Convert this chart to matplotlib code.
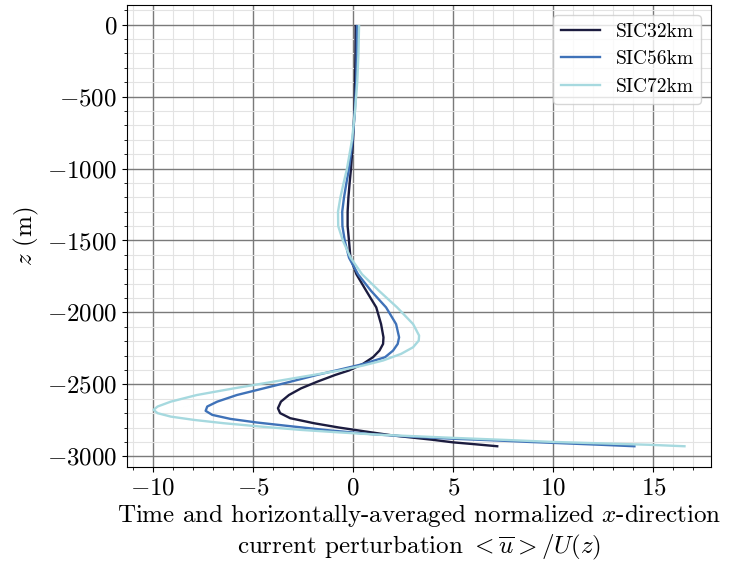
import numpy as np
import matplotlib.pyplot as plt
from matplotlib.ticker import MultipleLocator

plt.rcParams['font.family'] = 'serif'
plt.rcParams['font.serif'] = ['cmr10']
plt.rcParams['mathtext.fontset'] = 'cm'
plt.rcParams['axes.formatter.use_mathtext'] = True

# normalized mean x-current perturbation <u>/U(z) against depth z (m)
z_sic32 = [-10, -200, -400, -600, -800, -1000, -1100, -1200, -1300, -1400,
           -1504, -1620, -1735, -1850, -1965, -2081, -2173, -2219, -2265, -2311,
           -2357, -2403, -2435, -2482, -2528, -2574, -2620, -2666, -2700, -2735,
           -2770, -2800, -2827, -2855, -2885, -2903, -2915, -2930]
u_sic32 = [0.13, 0.12, 0.10, 0.07, 0.0, -0.10, -0.17, -0.23, -0.27, -0.27,
           -0.20, -0.13, 0.17, 0.66, 1.16, 1.40, 1.52, 1.50, 1.32, 1.0,
           0.5, -0.2, -0.9, -1.8, -2.6, -3.2, -3.6, -3.75, -3.64, -3.14,
           -1.95, -0.7, 0.6, 1.98, 3.97, 5.0, 6.0, 7.2]

z_sic56 = [-10, -200, -400, -600, -800, -1000, -1100, -1200, -1300, -1400,
           -1504, -1620, -1735, -1850, -1965, -2081, -2173, -2219, -2265, -2311,
           -2357, -2392, -2435, -2482, -2528, -2574, -2620, -2654, -2684, -2712,
           -2740, -2765, -2793, -2820, -2843, -2862, -2878, -2890, -2900, -2910,
           -2920, -2930]
u_sic56 = [0.20, 0.19, 0.16, 0.09, -0.02, -0.20, -0.33, -0.45, -0.54, -0.53,
           -0.41, -0.20, 0.25, 0.90, 1.65, 2.15, 2.30, 2.23, 2.00, 1.60,
           0.55, -0.50, -1.82, -3.14, -4.47, -5.8, -6.78, -7.28, -7.36, -7.03,
           -6.12, -4.8, -2.98, -1.16, 0.66, 2.65, 5.05, 7.2, 8.8, 10.6,
           12.4, 14.05]

z_sic72 = [-10, -200, -400, -600, -800, -1000, -1100, -1200, -1300, -1400,
           -1504, -1620, -1735, -1850, -1965, -2081, -2161, -2196, -2242, -2288,
           -2334, -2369, -2403, -2435, -2482, -2528, -2574, -2620, -2654, -2677,
           -2700, -2724, -2747, -2770, -2793, -2816, -2834, -2850, -2872, -2886,
           -2900, -2910, -2920, -2930]
u_sic72 = [0.30, 0.27, 0.21, 0.10, -0.05, -0.30, -0.47, -0.63, -0.75, -0.74,
           -0.50, -0.12, 0.45, 1.30, 2.20, 3.00, 3.30, 3.28, 3.00, 2.40,
           1.50, 0.50, -0.66, -2.0, -4.0, -5.96, -7.8, -9.1, -9.76, -9.96,
           -9.76, -9.1, -7.94, -6.45, -4.63, -2.65, -0.66, 1.32, 5.05, 7.6,
           10.0, 12.4, 14.8, 16.55]

labels = ['SIC32km', 'SIC56km', 'SIC72km']
colors = ['#1c1c3f', '#3f72b8', '#a6d9df']

fig, ax = plt.subplots(figsize=(7.3, 5.65), dpi=100)
fig.subplots_adjust(left=0.174, right=0.974, top=0.991, bottom=0.173)

series = [(u_sic32, z_sic32), (u_sic56, z_sic56), (u_sic72, z_sic72)]
for (u, z), lab, c in zip(series, labels, colors):
    ax.plot(u, z, color=c, lw=1.7, label=lab)

ax.xaxis.set_major_locator(MultipleLocator(5))
ax.xaxis.set_minor_locator(MultipleLocator(1))
ax.yaxis.set_major_locator(MultipleLocator(500))
ax.yaxis.set_minor_locator(MultipleLocator(100))
ax.grid(which='major', color='#7a7a7a', lw=1.0)
ax.grid(which='minor', color='#e3e3e3', lw=0.8)
ax.set_axisbelow(True)
ax.tick_params(labelsize=18)

ax.set_ylabel('$z$ (m)', fontsize=18)
ax.set_xlabel('Time and horizontally-averaged normalized $x$-direction\n'
              'current perturbation $<\\overline{u}>/U(z)$', fontsize=18,
              labelpad=2)
ax.legend(loc='upper right', fontsize=14)

plt.savefig('out.png')
